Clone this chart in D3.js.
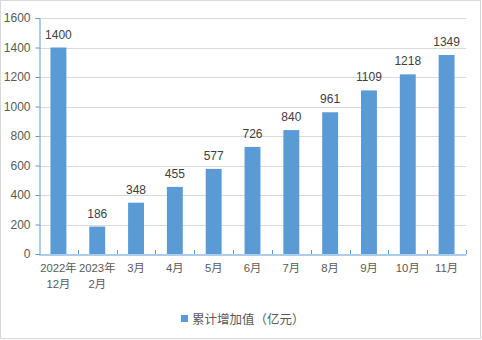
<!DOCTYPE html>
<html><head><meta charset="utf-8">
<script src="https://cdn.jsdelivr.net/npm/d3@7"></script>
<style>body{margin:0;background:#fff;}svg{display:block;}</style>
</head><body>
<script>
const categories = [["2022年","12月"],["2023年","2月"],["3月"],["4月"],["5月"],["6月"],["7月"],["8月"],["9月"],["10月"],["11月"]];
const values = [1400,186,348,455,577,726,840,961,1109,1218,1349];
const yTicks = [0,200,400,600,800,1000,1200,1400,1600];
const seriesName = "累计增加值（亿元）";

(function(){
const W=482,H=340;
const font = "'Liberation Sans','Noto Sans CJK SC',sans-serif";
const svg = d3.select("body").append("svg").attr("width",W).attr("height",H);
svg.append("rect").attr("x",0.5).attr("y",0.5).attr("width",W-2).attr("height",H-2)
  .attr("fill","#fff").attr("stroke","#d9d9d9");

const mL=39,mR=466,mT=18,mB=254;
const x = d3.scaleBand().domain(d3.range(categories.length)).range([mL,mR]).paddingInner(0.59).paddingOuter(0.295);
const xb = d3.scaleBand().domain(d3.range(categories.length)).range([mL,mR]);
const y = d3.scaleLinear().domain([0,1600]).range([mB,mT]);

svg.append("g").selectAll("line").data(yTicks.filter(d=>d>0)).join("line")
  .attr("x1",mL).attr("x2",mR).attr("y1",d=>Math.round(y(d))+0.5).attr("y2",d=>Math.round(y(d))+0.5)
  .attr("stroke","#d9d9d9");

const ya = svg.append("g").attr("transform",`translate(${mL+0.5},0)`)
  .call(d3.axisLeft(y).tickValues(yTicks).tickSize(4).tickPadding(5).tickFormat(d3.format("d")));
ya.select(".domain").attr("stroke","#5b9bd5");
ya.selectAll(".tick line").attr("stroke","#5b9bd5");
ya.selectAll("text").attr("fill","#595959").style("font-family",font).style("font-size","12px");

svg.append("g").selectAll("rect").data(values).join("rect")
  .attr("x",(d,i)=>x(i)).attr("width",x.bandwidth())
  .attr("y",d=>y(d)).attr("height",d=>mB-y(d)).attr("fill","#5b9bd5");

svg.append("g").selectAll("text").data(values).join("text")
  .attr("x",(d,i)=>x(i)+x.bandwidth()/2).attr("y",d=>y(d)-9)
  .attr("text-anchor","middle").attr("fill","#404040")
  .style("font-family",font).style("font-size","12px").text(d=>d);

const xa = svg.append("g").attr("transform",`translate(0,${mB+0.5})`)
  .call(d3.axisBottom(xb).tickValues([]).tickSizeOuter(0));
xa.select(".domain").attr("stroke","#5b9bd5");
const bounds = d3.range(1,categories.length).map(i=>xb(i)).concat([mR]);
svg.append("g").selectAll("line").data(bounds).join("line")
  .attr("x1",d=>Math.round(d)+0.5).attr("x2",d=>Math.round(d)+0.5)
  .attr("y1",mB-4).attr("y2",mB).attr("stroke","#5b9bd5");

const xl = svg.append("g").selectAll("text").data(categories).join("text")
  .attr("x",(d,i)=>xb(i)+xb.bandwidth()/2).attr("y",272)
  .attr("text-anchor","middle").attr("fill","#595959")
  .style("font-family",font).style("font-size","11.3px");
xl.selectAll("tspan").data(d=>d).join("tspan")
  .attr("x",function(){return this.parentNode.getAttribute("x");})
  .attr("dy",(d,i)=>i===0?0:16).text(d=>d);

svg.append("rect").attr("x",181).attr("y",315).attr("width",7).attr("height",7).attr("fill","#5b9bd5");
svg.append("text").attr("x",192).attr("y",323.5).attr("fill","#595959")
  .style("font-family",font).style("font-size","12.5px").text(seriesName);
})();
</script>
</body></html>
